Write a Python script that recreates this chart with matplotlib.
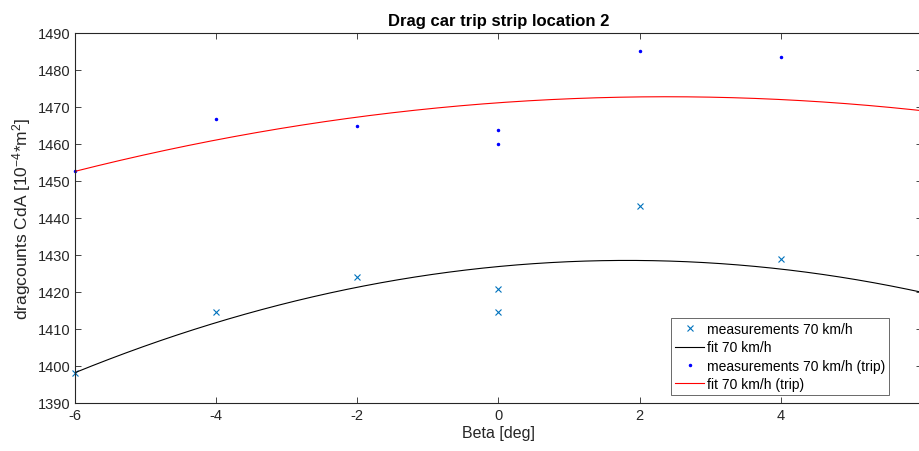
import numpy as np
import matplotlib
matplotlib.use("Agg")
import matplotlib.pyplot as plt

plt.rcParams['font.family'] = ['Liberation Sans', 'DejaVu Sans']
plt.rcParams['mathtext.fontset'] = 'custom'
plt.rcParams['mathtext.rm'] = 'Liberation Sans'
plt.rcParams['mathtext.it'] = 'Liberation Sans'

# Yaw angle (deg) and measured drag counts
beta = [-6, -4, -2, 0, 0, 2, 4, 6]
cda_70 = [1398.0, 1414.5, 1424.0, 1420.7, 1414.5, 1443.2, 1429.0, 1415.7]
cda_70_trip = [1452.7, 1466.7, 1464.8, 1463.9, 1460.0, 1485.2, 1483.5, 1460.2]

x_ticks = [-6, -4, -2, 0, 2, 4, 6]
y_ticks = [1390, 1400, 1410, 1420, 1430, 1440, 1450, 1460, 1470, 1480, 1490]

axis_color = (0.15, 0.15, 0.15)

fig = plt.figure(figsize=(9.2, 4.52), dpi=100)
ax = fig.add_axes([75 / 920, 48 / 452, 847 / 920, 370 / 452])

# second-order fits through each data set
xf = np.linspace(-6, 6, 300)
p70 = np.polyfit(beta, cda_70, 2)
p70t = np.polyfit(beta, cda_70_trip, 2)

ax.plot(beta, cda_70, 'x', color=(0, 0.447, 0.741), markersize=3.8, markeredgewidth=0.8,
        label='measurements 70 km/h', clip_on=False)
ax.plot(xf, np.polyval(p70, xf), '-', color='black', linewidth=0.8, label='fit 70 km/h')
ax.plot(beta, cda_70_trip, '.', color=(0, 0, 1), markersize=3,
        label='measurements 70 km/h (trip)', clip_on=False)
ax.plot(xf, np.polyval(p70t, xf), '-', color='red', linewidth=0.8, label='fit 70 km/h (trip)')

ax.set_xlim(-6, 6)
ax.set_ylim(1390, 1490)
ax.set_xticks(x_ticks)
ax.set_yticks(y_ticks)
ax.set_xticklabels([str(t) for t in x_ticks])

ax.tick_params(direction='in', length=4, width=0.6, colors=axis_color,
               labelsize=10.5, top=True, right=True, labelcolor=axis_color)
for s in ax.spines.values():
    s.set_color(axis_color)
    s.set_linewidth(0.8)

ax.set_xlabel('Beta [deg]', fontsize=11.5, color=axis_color, labelpad=2)
ax.set_ylabel('dragcounts CdA [10$^{-4}$*m$^{2}$]', fontsize=12.5, color=axis_color, labelpad=3)
ax.set_title('Drag car trip strip location 2', fontsize=12, fontweight='bold', pad=6)

leg = ax.legend(loc='lower right', bbox_to_anchor=(889 / 920, 56 / 452),
                bbox_transform=fig.transFigure, fontsize=10, frameon=True, fancybox=False,
                edgecolor=axis_color, borderpad=0.3, labelspacing=0.3, handlelength=2.1,
                handletextpad=0.15, borderaxespad=0)
leg.get_frame().set_linewidth(0.6)

fig.savefig('out.png', dpi=100)
